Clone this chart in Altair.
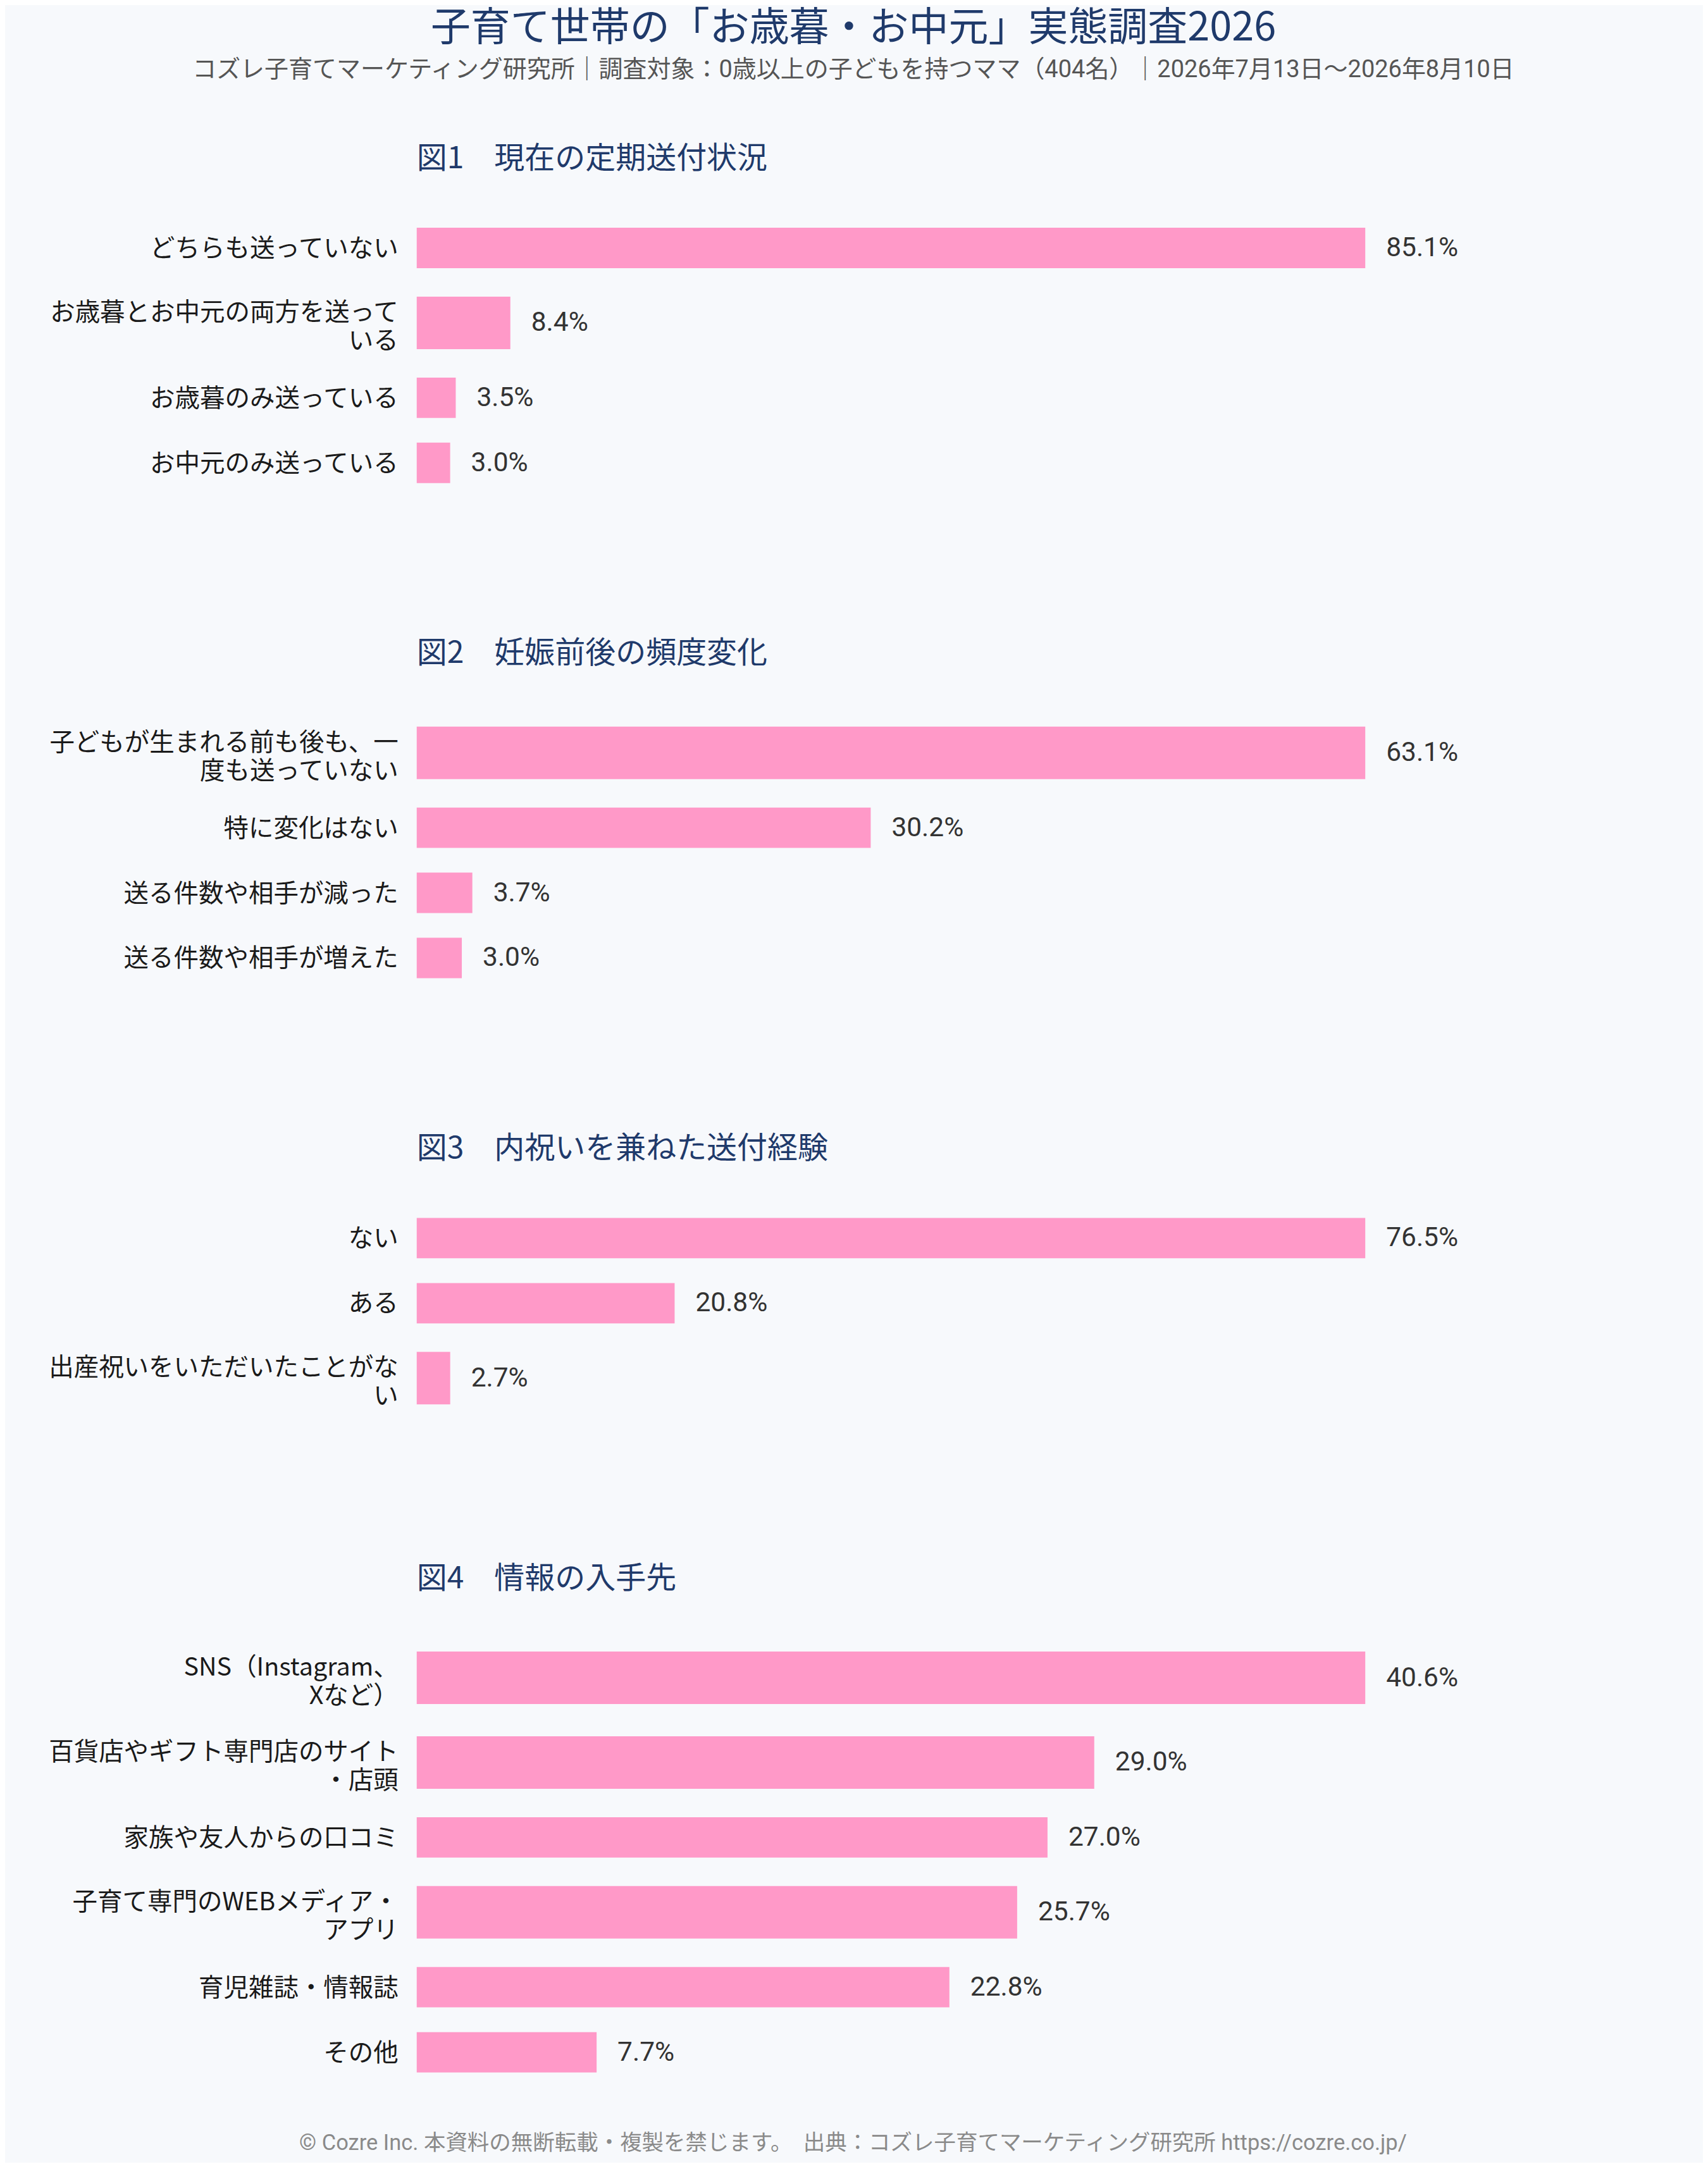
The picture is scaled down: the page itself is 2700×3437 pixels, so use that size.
import altair as alt
import pandas as pd

FONT = "Roboto, 'Noto Sans CJK JP', sans-serif"
JFONT = "'Noto Sans CJK JP', sans-serif"

# ---- data ----
p1_labels = ["どちらも送っていない", "お歳暮とお中元の両方を送って\nいる", "お歳暮のみ送っている", "お中元のみ送っている"]
p1_values = [85.1, 8.4, 3.5, 3.0]

p2_labels = ["子どもが生まれる前も後も、一\n度も送っていない", "特に変化はない", "送る件数や相手が減った", "送る件数や相手が増えた"]
p2_values = [63.1, 30.2, 3.7, 3.0]

p3_labels = ["ない", "ある", "出産祝いをいただいたことがな\nい"]
p3_values = [76.5, 20.8, 2.7]

p4_labels = ["SNS（Instagram、\nXなど）", "百貨店やギフト専門店のサイト\n・店頭", "家族や友人からの口コミ",
             "子育て専門のWEBメディア・\nアプリ", "育児雑誌・情報誌", "その他"]
p4_values = [40.6, 29.0, 27.0, 25.7, 22.8, 7.7]

panel_titles = ["図1　現在の定期送付状況", "図2　妊娠前後の頻度変化", "図3　内祝いを兼ねた送付経験", "図4　情報の入手先"]

main_title = "子育て世帯の「お歳暮・お中元」実態調査2026"
sub_title = "コズレ子育てマーケティング研究所｜調査対象：0歳以上の子どもを持つママ（404名）｜2026年7月13日〜2026年8月10日"
footer = "© Cozre Inc. 本資料の無断転載・複製を禁じます。　出典：コズレ子育てマーケティング研究所  https://cozre.co.jp/"

# ---- styling ----
BAR = "#FF99C8"
NAVY = "#1F3A6B"
UNIT = 103          # px per single-line row
DOUBLE = 1.3        # relative height of a two-line row
PAD = 0.19          # fraction of row left empty above/below bar
W = 1500
LABEL_SIZE = 39.5
LINE_H = 45


def panel(labels, values, title, footer_text=None):
    rows = []
    cum = 0.0
    for lab, v in zip(labels, values):
        n = lab.count("\n") + 1
        w = DOUBLE if n > 1 else 1.0
        rows.append(dict(label=lab, lines=n, value=v, zero=0.0,
                         ya=cum + PAD * w, yb=cum + w - PAD * w, ym=cum + w / 2,
                         txt=f"{v:.1f}%"))
        cum += w
    df = pd.DataFrame(rows)
    h = cum * UNIT
    xs = alt.Scale(domain=[0, max(values)], nice=False, zero=True)
    ys = alt.Scale(domain=[0, cum], nice=False, zero=True, reverse=True)
    base = alt.Chart(df)
    bars = base.mark_rect(color=BAR).encode(
        x=alt.X("zero:Q", scale=xs, axis=None),
        x2="value:Q",
        y=alt.Y("ya:Q", scale=ys, axis=None),
        y2="yb:Q",
    )
    lab_enc = dict(
        x=alt.X("zero:Q", scale=xs, axis=None),
        y=alt.Y("ym:Q", scale=ys, axis=None),
        text="label:N",
    )
    labs1 = base.transform_filter("datum.lines == 1").mark_text(
        align="right", baseline="middle", dx=-29, dy=2, fontSize=LABEL_SIZE,
        color="#1a1a1a", font=JFONT).encode(**lab_enc)
    labs2 = base.transform_filter("datum.lines == 2").mark_text(
        align="right", baseline="middle", dx=-29, dy=-15.5, fontSize=LABEL_SIZE,
        color="#1a1a1a", font=JFONT, lineBreak="\n", lineHeight=LINE_H).encode(**lab_enc)
    vals = base.mark_text(align="left", baseline="middle", dx=33, fontSize=42.5,
                          color="#333333", font=FONT).encode(
        x=alt.X("value:Q", scale=xs, axis=None),
        y=alt.Y("ym:Q", scale=ys, axis=None),
        text="txt:N",
    )
    layers = [bars, labs1, labs2, vals]
    if footer_text:
        ft = alt.Chart(pd.DataFrame({"t": [footer_text]})).mark_text(
            align="center", baseline="middle", fontSize=34.5, color="#8a8a8a", font=FONT).encode(
            text="t:N", x=alt.value(690), y=alt.value(h + 93))
        layers.append(ft)
    return alt.layer(*layers).properties(
        width=W, height=h,
        title=alt.TitleParams(title, anchor="start", frame="group", fontSize=48,
                              fontWeight="normal", color=NAVY, font=JFONT, offset=65),
    )


charts = [
    panel(p1_labels, p1_values, panel_titles[0]),
    panel(p2_labels, p2_values, panel_titles[1]),
    panel(p3_labels, p3_values, panel_titles[2]),
    panel(p4_labels, p4_values, panel_titles[3], footer),
]

chart = alt.vconcat(*charts, spacing=340).properties(
    bounds="flush",
    padding={"left": 69, "top": 5, "right": 296, "bottom": 12},
    title=alt.TitleParams(main_title, subtitle=sub_title, anchor="middle", dx=158,
                          fontSize=63, fontWeight="normal", color=NAVY, font=JFONT,
                          subtitleFontSize=38, subtitleColor="#555555", subtitleFont=FONT,
                          subtitlePadding=15, offset=98),
).configure(background="#F7F9FC").configure_view(stroke=None)

chart.save("out.html", embed_options={"renderer": "svg", "actions": False})
